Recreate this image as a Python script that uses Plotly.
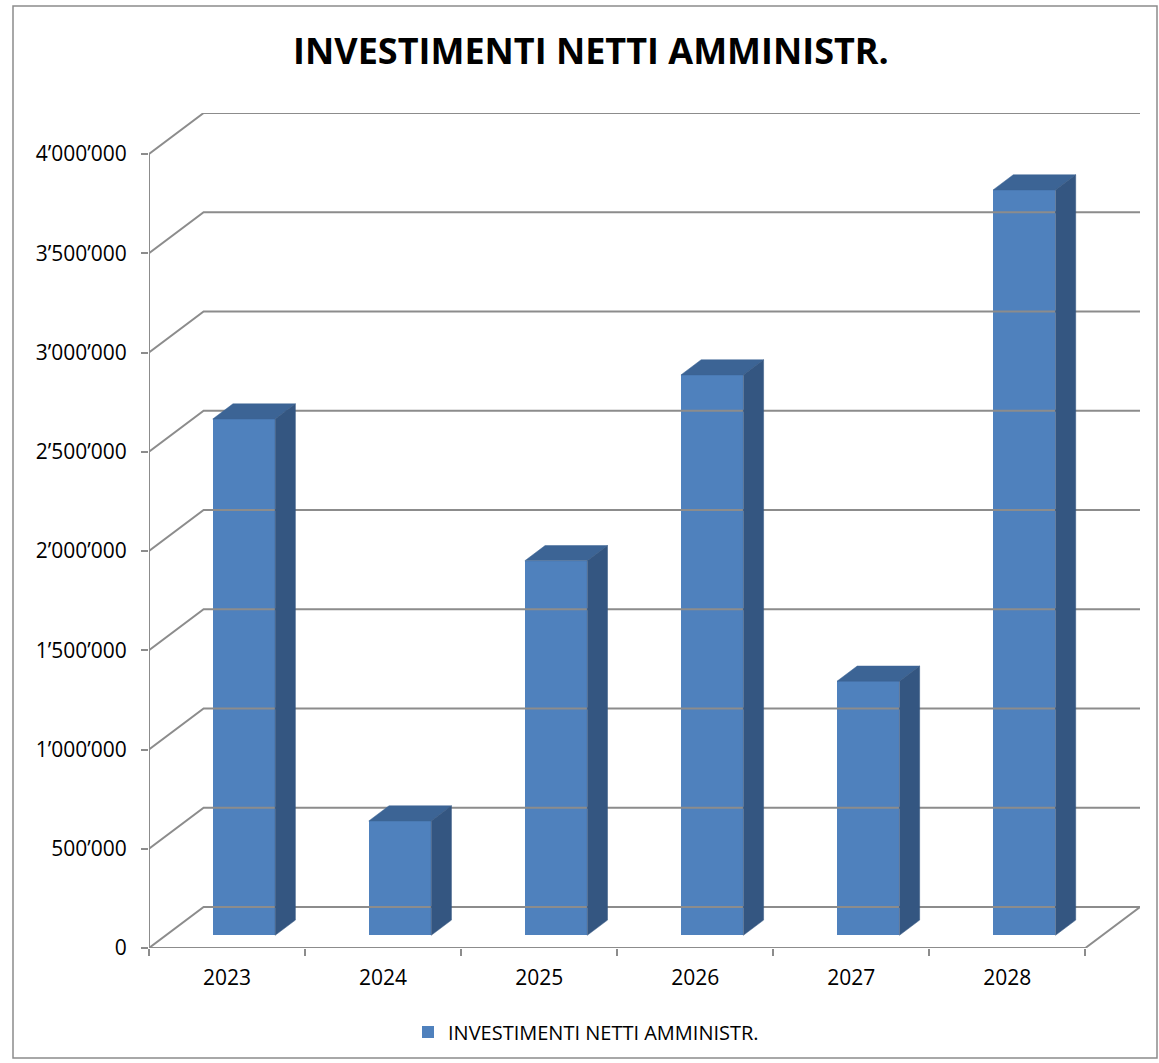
import plotly.graph_objects as go

# ---- data ----
years = ["2023", "2024", "2025", "2026", "2027", "2028"]
values = [2601000, 576000, 1887000, 2823000, 1280000, 3755000]
ytick_vals = [0, 500000, 1000000, 1500000, 2000000, 2500000, 3000000, 3500000, 4000000]
ytick_text = ["0", "500’000", "1’000’000", "1’500’000", "2’000’000",
              "2’500’000", "3’000’000", "3’500’000", "4’000’000"]
series_name = "INVESTIMENTI NETTI AMMINISTR."
title_text = "INVESTIMENTI NETTI AMMINISTR."

# ---- 3D projection style ----
DX = 0.35            # depth offset in category units
DY = 206600          # depth offset in value units
D_FRONT = 0.31       # bar front plane (fraction of depth)
D_SPAN = 0.37        # bar depth (fraction of depth)
BAR_W = 0.40
FONT = "Open Sans"
GRID = "#8c8c8c"
FRONT_C = "#4F81BD"
TOP_C = "#3C6495"
SIDE_C = "#345681"

n = len(years)
centers = list(range(n))
x_left_edge = -0.5
x_right_edge = n - 0.5
ymax = ytick_vals[-1]

fig = go.Figure()

# gridlines (left wall diagonal + back wall horizontal)
gx, gy = [], []
for v in ytick_vals:
    gx += [x_left_edge, x_left_edge + DX, x_right_edge + DX, None]
    gy += [v, v + DY, v + DY, None]
# floor front edge + right edge
gx += [x_left_edge, x_right_edge, x_right_edge + DX, None]
gy += [0, 0, DY, None]
# y-axis line
gx += [x_left_edge, x_left_edge, None]
gy += [0, ymax, None]
fig.add_trace(go.Scatter(x=gx, y=gy, mode="lines", line=dict(color=GRID, width=2),
                         hoverinfo="skip", showlegend=False, cliponaxis=False))

# bar front faces
base = D_FRONT * DY
bx = [c + D_FRONT * DX for c in centers]
fig.add_trace(go.Bar(x=bx, y=values, base=[base] * n, width=BAR_W,
                     marker=dict(color=FRONT_C, line=dict(width=0)),
                     name=series_name, showlegend=True))

# top and side faces
sdx, sdy = D_SPAN * DX, D_SPAN * DY
tx, ty, sx, sy = [], [], [], []
for c, v in zip(bx, values):
    xl, xr = c - BAR_W / 2, c + BAR_W / 2
    yt = base + v
    tx += [xl, xl + sdx, xr + sdx, xr, xl, None]
    ty += [yt, yt + sdy, yt + sdy, yt, yt, None]
    sx += [xr, xr + sdx, xr + sdx, xr, xr, None]
    sy += [base, base + sdy, yt + sdy, yt, base, None]
fig.add_trace(go.Scatter(x=tx, y=ty, mode="lines", fill="toself", fillcolor=TOP_C,
                         line=dict(color=TOP_C, width=0.5), hoverinfo="skip",
                         showlegend=False))
fig.add_trace(go.Scatter(x=sx, y=sy, mode="lines", fill="toself", fillcolor=SIDE_C,
                         line=dict(color=SIDE_C, width=0.5), hoverinfo="skip",
                         showlegend=False))

W, H = 1159, 1063
ML, MR, MT, MB = 149, 19, 113, 115

fig.update_layout(
    width=W, height=H,
    margin=dict(l=ML, r=MR, t=MT, b=MB),
    paper_bgcolor="white", plot_bgcolor="white",
    font=dict(family=FONT, color="#000000"),
    title=dict(text="<b>" + title_text + "</b>", x=591 / W, xref="container",
               xanchor="center", y=1 - 51 / H, yref="container", yanchor="middle",
               font=dict(family=FONT, size=36, color="#000000")),
    showlegend=True,
    legend=dict(orientation="h", xref="container", x=408 / W, xanchor="left",
                yref="container", y=1 - 1032 / H, yanchor="middle",
                font=dict(family=FONT, size=20), bgcolor="rgba(0,0,0,0)"),
    bargap=0,
    xaxis=dict(range=[x_left_edge, x_right_edge + DX], tickmode="array",
               tickvals=centers, ticktext=years, ticks="", showgrid=False,
               zeroline=False, showline=False, ticklabelstandoff=15,
               tickfont=dict(family=FONT, size=21),
               minor=dict(tickmode="array",
                          tickvals=[x_left_edge + i for i in range(n + 1)],
                          ticks="outside", ticklen=7, tickcolor=GRID, tickwidth=2,
                          showgrid=False)),
    yaxis=dict(range=[0, ymax + DY], tickmode="array", tickvals=ytick_vals,
               ticktext=ytick_text, ticks="outside", ticklen=7, tickcolor=GRID,
               tickwidth=2, showgrid=False, zeroline=False, showline=False,
               ticklabelstandoff=10, tickfont=dict(family=FONT, size=21)),
    shapes=[dict(type="rect", xref="paper", yref="paper",
                 x0=(13 - ML) / (W - ML - MR), x1=(1157 - ML) / (W - ML - MR),
                 y0=(H - MB - 1058) / (H - MT - MB), y1=(H - MB - 6) / (H - MT - MB),
                 line=dict(color="#8c8c8c", width=1.5), fillcolor="rgba(0,0,0,0)",
                 layer="below")],
)

fig.write_html("out.html", config={"displayModeBar": False},
               post_script="document.body.style.margin='0';document.body.style.padding='0';")
